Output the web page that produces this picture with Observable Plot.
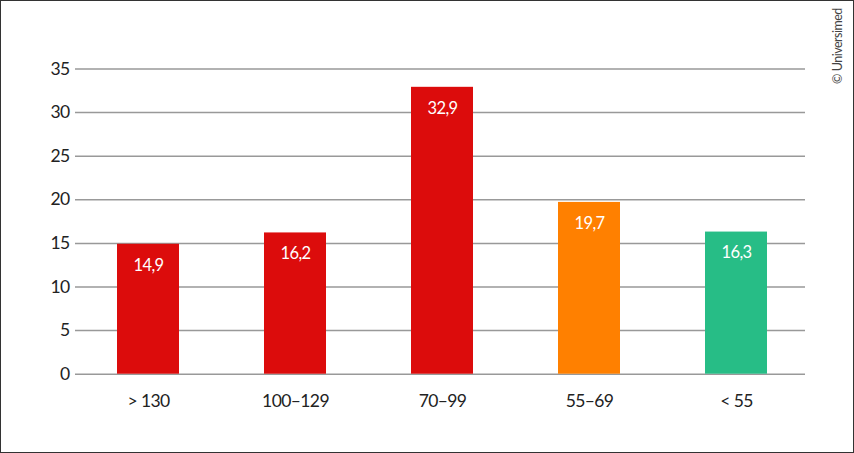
<!DOCTYPE html>
<html><head><meta charset="utf-8">
<script src="https://cdn.jsdelivr.net/npm/d3@7"></script>
<script src="https://cdn.jsdelivr.net/npm/@observablehq/plot@0.6"></script>
<style>
body{margin:0;background:#fff;}
#wrap{position:relative;width:854px;height:453px;overflow:hidden;}
#wrap svg{display:block;outline:1.5px solid #333;outline-offset:-1.5px;}
#wrap svg text{letter-spacing:-0.6px;}
#copy{position:absolute;left:837px;top:46px;transform:translate(-50%,-50%) rotate(-90deg);font-family:Lato,sans-serif;font-size:12.5px;letter-spacing:-0.5px;color:#444;white-space:nowrap;}
</style></head>
<body><div id="wrap"><div id="copy">© Universimed</div></div>
<script>
const categories = ["> 130", "100–129", "70–99", "55–69", "< 55"];
const values = [14.9, 16.2, 32.9, 19.7, 16.3];
const colors = ["#dc0c0c", "#dc0c0c", "#dc0c0c", "#ff8000", "#27bd86"];
const yTicks = [0, 5, 10, 15, 20, 25, 30, 35];

const data = categories.map((c, i) => ({cat: c, value: values[i], color: colors[i], label: String(values[i]).replace(".", ",")}));

const chart = Plot.plot({
  width: 854,
  height: 453,
  marginLeft: 75,
  marginRight: 49,
  marginTop: 68.5,
  marginBottom: 79.3,
  style: {fontFamily: "Lato, sans-serif", fontSize: "17.5px", color: "#222", background: "#fff"},
  x: {domain: categories, range: [74.2, 809.6], paddingInner: 0.58, paddingOuter: 0.29, label: null, tickSize: 0, tickPadding: 20},
  y: {domain: [0, 35], ticks: yTicks, label: null, tickSize: 0, tickPadding: 6},
  marks: [
    Plot.ruleY(yTicks, {stroke: "#999", strokeWidth: 1.5}),
    Plot.barY(data, {x: "cat", y: "value", fill: "color"}),
    Plot.text(data, {x: "cat", y: "value", text: "label", fill: "#fff", dy: 21, fontSize: 16.5})
  ]
});
document.getElementById("wrap").prepend(chart);
</script></body></html>
